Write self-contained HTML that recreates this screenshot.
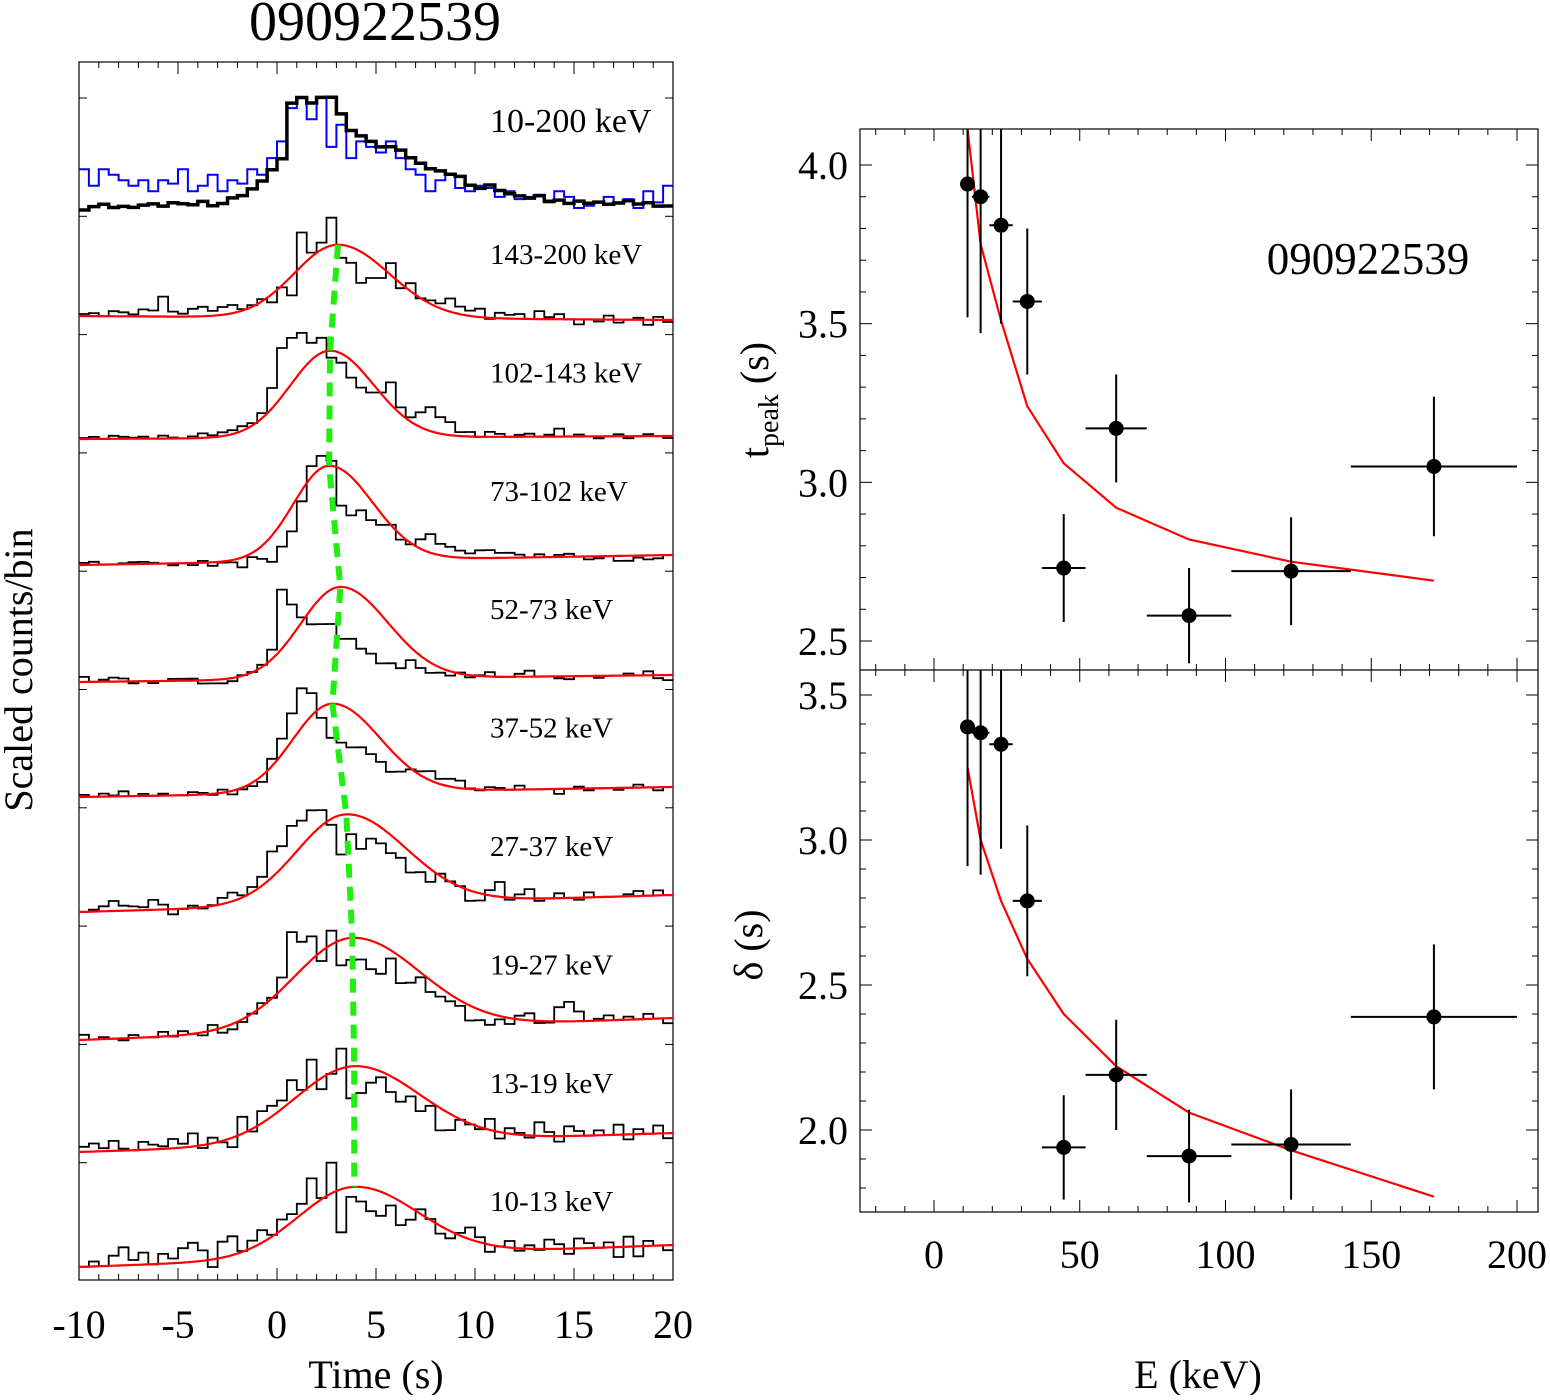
<!DOCTYPE html>
<html><head><meta charset="utf-8">
<style>
html,body{margin:0;padding:0;background:#fff;}
svg text{font-family:"Liberation Serif",serif;fill:#000;}
</style></head>
<body>
<svg id="chart" width="1550" height="1395" viewBox="0 0 1550 1395" xmlns="http://www.w3.org/2000/svg">
<g id="left"></g>
<g id="right"></g>
</svg>
<script>
// ---------- LEFT PANEL DATA ----------
const bandLabels=["143-200 keV","102-143 keV","73-102 keV","52-73 keV","37-52 keV","27-37 keV","19-27 keV","13-19 keV","10-13 keV"];
const bandBaseL=[316,439,565,682,797,912,1040,1152,1267];
const bandBaseR=[320,436,555,675,787,895,1018,1133,1245];
const modelPeakT=[3.08,2.68,2.63,3.2,2.8,3.5,3.8,3.9,3.9];
const modelAmp=[0.73,0.87,0.95,0.92,0.89,0.9,0.92,0.77,0.70];
const modelRise=[2.2,2.0,1.8,2.0,2.0,2.5,2.9,3.0,2.8];
const modelDecay=[2.6,2.2,2.2,2.4,2.4,3.0,3.4,3.3,3.2];
const histTop_black=[0.0,0.03,0.05,0.02,0.03,0.02,0.04,0.05,0.03,0.06,0.05,0.04,0.07,0.03,0.05,0.1,0.12,0.18,0.25,0.35,0.45,0.95,1.0,0.95,1.0,1.0,0.85,0.7,0.65,0.6,0.55,0.55,0.52,0.45,0.4,0.35,0.33,0.3,0.28,0.2,0.17,0.2,0.15,0.12,0.1,0.08,0.1,0.05,0.06,0.03,0.05,0.03,0.04,0.02,0.03,0.05,0.02,0.03,0.0,0.0];
const histTop_blue=[0.35,0.2,0.35,0.3,0.25,0.2,0.25,0.15,0.25,0.22,0.35,0.15,0.2,0.3,0.15,0.25,0.22,0.35,0.3,0.45,0.6,0.9,1.0,0.8,1.0,0.55,0.75,0.45,0.6,0.55,0.5,0.6,0.45,0.35,0.3,0.15,0.25,0.3,0.18,0.15,0.2,0.18,0.1,0.15,0.08,0.1,0.12,0.05,0.15,0.1,0.0,0.02,0.05,0.1,0.05,0.08,0.0,0.15,0.05,0.2];
const hist0=[0.02,0.03,0.0,0.05,0.04,0.02,0.07,0.06,0.2,0.05,0.03,0.08,0.1,0.06,0.1,0.12,0.08,0.12,0.18,0.15,0.3,0.22,0.85,0.65,0.75,1.0,0.6,0.55,0.35,0.4,0.4,0.55,0.3,0.35,0.2,0.18,0.15,0.2,0.12,0.08,0.1,0.0,0.06,0.04,0.05,0.0,0.08,0.02,0.05,0.0,-0.05,0.0,-0.02,0.04,-0.03,0.0,0.02,-0.05,0.03,-0.02];
const hist1=[0.01,0.02,0.0,0.03,0.02,0.01,0.02,0.0,0.03,0.01,0.0,0.02,0.05,0.03,0.06,0.08,0.12,0.15,0.25,0.5,0.9,1.0,1.05,0.95,1.0,0.8,0.75,0.6,0.5,0.45,0.45,0.55,0.3,0.2,0.25,0.3,0.2,0.15,0.05,0.05,0.0,0.05,0.03,0.0,0.02,0.03,0.0,0.02,0.08,0.0,0.02,0.0,-0.02,0.0,0.02,-0.02,0.0,0.02,0.0,-0.02];
const hist2=[0.02,0.03,0.0,0.0,0.01,0.02,0.02,0.01,0.0,-0.02,0.0,-0.02,0.02,-0.03,0.0,0.0,-0.05,0.05,0.03,0.0,0.15,0.3,0.6,0.95,1.05,1.0,0.55,0.45,0.5,0.4,0.35,0.35,0.2,0.15,0.2,0.25,0.15,0.12,0.08,0.05,0.08,0.08,0.05,0.05,0.03,0.0,0.03,0.0,0.02,0.03,0.0,-0.03,-0.02,0.0,-0.05,-0.05,-0.02,-0.04,-0.03,0.0];
const hist3=[0.05,0.0,0.02,0.04,0.03,-0.02,0.0,-0.02,0.0,0.02,0.02,0.02,-0.03,-0.03,-0.03,-0.01,0.05,0.08,0.15,0.3,0.9,0.75,0.62,0.55,0.55,0.55,0.4,0.4,0.3,0.25,0.15,0.15,0.1,0.18,0.1,0.05,0.05,0.02,0.05,0.0,0.02,0.05,0.0,0.0,0.03,0.06,0.0,0.0,-0.02,-0.03,0.0,0.0,-0.02,0.0,0.0,0.02,0.0,0.04,-0.03,-0.05];
const hist4=[0.02,0.0,0.03,0.01,0.05,0.0,0.02,0.0,0.02,0.0,0.0,0.03,0.02,0.0,0.05,0.0,0.05,0.08,0.12,0.35,0.55,0.8,1.05,1.0,0.75,0.55,0.5,0.45,0.45,0.38,0.3,0.2,0.2,0.22,0.2,0.2,0.12,0.12,0.1,0.02,0.0,0.03,0.02,0.0,0.04,0.0,0.0,0.0,-0.05,0.0,0.02,-0.02,0.0,0.0,-0.02,0.0,0.03,0.0,-0.03,0.0];
const hist5=[0.0,0.02,0.05,0.1,0.05,0.04,0.03,0.1,0.05,-0.05,0.0,0.03,0.0,0.03,0.1,0.15,0.12,0.2,0.3,0.55,0.6,0.8,0.85,0.95,0.95,0.8,0.5,0.7,0.55,0.65,0.6,0.5,0.45,0.3,0.3,0.2,0.28,0.2,0.15,0.0,0.0,0.1,0.18,0.0,0.05,0.1,-0.02,0.0,0.05,0.0,-0.02,0.05,0.0,0.0,0.0,0.02,0.05,0.0,0.05,0.0];
const hist6=[0.05,0.0,0.02,0.0,-0.02,0.03,0.0,0.0,0.05,0.0,0.05,0.02,0.0,0.1,0.02,0.05,0.12,0.2,0.3,0.35,0.55,1.0,0.9,0.95,0.7,1.0,0.65,0.7,0.7,0.6,0.55,0.7,0.45,0.45,0.5,0.35,0.3,0.25,0.2,0.05,0.05,0.0,0.05,0.0,0.08,0.1,0.0,0.0,0.15,0.2,0.1,0.0,0.02,0.05,0.0,0.03,0.0,0.05,0.0,-0.05];
const hist7=[0.05,0.08,0.03,0.1,0.02,0.0,0.08,0.05,0.03,0.1,0.05,0.15,0.0,0.1,0.05,0.0,0.3,0.15,0.35,0.4,0.45,0.65,0.55,0.85,0.55,0.7,0.95,0.45,0.5,0.6,0.65,0.5,0.4,0.45,0.3,0.35,0.1,0.1,0.2,0.15,0.1,0.2,0.0,0.1,0.05,0.0,0.15,0.05,-0.05,0.1,0.05,0.0,0.05,0.0,0.1,-0.05,0.05,0.0,0.08,-0.05];
const hist8=[0.0,0.05,0.0,0.1,0.18,0.05,0.12,0.0,0.1,0.05,0.15,0.2,0.12,-0.05,0.2,0.25,0.1,0.2,0.3,0.25,0.4,0.45,0.55,0.8,0.6,0.95,0.25,0.6,0.55,0.45,0.4,0.5,0.3,0.35,0.45,0.35,0.2,0.15,0.2,0.25,0.15,0.0,0.05,0.1,0.0,0.05,0.0,0.1,0.05,-0.05,0.1,0.05,0.0,0.05,-0.1,0.1,-0.1,0.05,0.0,-0.05];
const bandHists=[hist0,hist1,hist2,hist3,hist4,hist5,hist6,hist7,hist8];
const timeTicks=[-10,-5,0,5,10,15,20];

// ---------- RIGHT PANEL DATA ----------
const energy=[11.5,16,23,32,44.5,62.5,87.5,122.5,171.5];
const eLow=[10,13,19,27,37,52,73,102,143];
const eHigh=[13,19,27,37,52,73,102,143,200];
const tpeak=[3.94,3.90,3.81,3.57,2.73,3.17,2.58,2.72,3.05];
const tpeakErr=[0.42,0.43,0.31,0.23,0.17,0.17,0.15,0.17,0.22];
const tpeakFit=[4.12,3.75,3.51,3.24,3.06,2.92,2.82,2.75,2.69];
const delta=[3.39,3.37,3.33,2.79,1.94,2.19,1.91,1.95,2.39];
const deltaErr=[0.48,0.49,0.36,0.26,0.18,0.19,0.16,0.19,0.25];
const deltaFit=[3.25,3.0,2.79,2.59,2.40,2.22,2.06,1.93,1.77];
const eTicks=[0,50,100,150,200];
const tTicks=[2.5,3.0,3.5,4.0];
const dTicks=[2.0,2.5,3.0,3.5];

const NS="http://www.w3.org/2000/svg";
function mk(tag,attrs,parent,txt){const e=document.createElementNS(NS,tag);for(const k in attrs)e.setAttribute(k,attrs[k]);if(txt!==undefined)e.textContent=txt;parent.appendChild(e);return e;}
const L=document.getElementById('left'), R=document.getElementById('right');

const LX0=79,LX1=673,LY0=62,LY1=1280;
const xT=t=>LX0+(t+10)*(LX1-LX0)/30;
let e;
e=mk('rect',{x:LX0,y:LY0,width:LX1-LX0,height:LY1-LY0,fill:'none',stroke:'#000','stroke-width':1.2},L);

for(let t=-10;t<=20;t++){const maj=t%5===0;const len=maj?12:6;
 mk('line',{x1:xT(t),x2:xT(t),y1:LY1,y2:LY1-len,stroke:'#000','stroke-width':1},L);
 mk('line',{x1:xT(t),x2:xT(t),y1:LY0,y2:LY0+len,stroke:'#000','stroke-width':1},L);}
for(let i=0;i<10;i++){const y=98+i*118.3;
 mk('line',{x1:LX0,x2:LX0+8,y1:y,y2:y,stroke:'#000'},L);mk('line',{x1:LX1,x2:LX1-8,y1:y,y2:y,stroke:'#000'},L);}
timeTicks.forEach(t=>{e=mk('text',{x:xT(t),y:1338,'font-size':40,'text-anchor':'middle'},L,String(t));
 });
e=mk('text',{x:376,y:1388,'font-size':40,'text-anchor':'middle'},L,'Time (s)');

e=mk('text',{x:0,y:0,'font-size':40,'text-anchor':'middle',transform:'translate(32,670) rotate(-90)'},L,'Scaled counts/bin');

e=mk('text',{x:375,y:40,'font-size':56,'text-anchor':'middle'},L,'090922539');


function stepPath(vals,baseL,baseR,scale){
 let d='';const n=vals.length,w=30/n;
 for(let i=0;i<n;i++){const t0=-10+i*w,t1=t0+w,tm=t0+w/2;
  const base=baseL+(baseR-baseL)*(tm+10)/30;const y=base-vals[i]*scale;
  d+=(i===0?'M':'L')+xT(t0).toFixed(1)+','+y.toFixed(1)+'L'+xT(t1).toFixed(1)+','+y.toFixed(1);}
 return d;}
e=mk('path',{d:stepPath(histTop_blue,208,208,111),fill:'none',stroke:'#0000ff','stroke-width':2},L);

e=mk('path',{d:stepPath(histTop_black,210,206,111),fill:'none',stroke:'#000','stroke-width':3.5},L);

e=mk('text',{x:490,y:132,'font-size':34},L,'10-200 keV');


const peaks=[];
bandHists.forEach((h,b)=>{
 const bl=bandBaseL[b],br=bandBaseR[b];
 e=mk('path',{d:stepPath(h,bl,br,100),fill:'none',stroke:'#000','stroke-width':1.8},L);
 
 let d='';for(let k=0;k<=300;k++){const t=-10+k*0.1;
  const s=t<modelPeakT[b]?modelRise[b]:modelDecay[b];
  const v=modelAmp[b]*Math.exp(-Math.pow(t-modelPeakT[b],2)/(2*s*s));
  const y=bl+(br-bl)*(t+10)/30-v*100;d+=(k?'L':'M')+xT(t).toFixed(1)+','+y.toFixed(1);}
 e=mk('path',{d:d,fill:'none',stroke:'#ff0000','stroke-width':2.2},L);
 
 const pt=modelPeakT[b];peaks.push([xT(pt),bl+(br-bl)*(pt+10)/30-modelAmp[b]*100]);
 e=mk('text',{x:490,y:264+b*118.4,'font-size':29},L,bandLabels[b]);
 
});
e=mk('polyline',{points:peaks.map(p=>p.join(',')).join(' '),fill:'none',stroke:'#22ee11','stroke-width':6,'stroke-dasharray':'14,9'},L);


const RX0=860,RX1=1538,TY0=129,TY1=670,BY1=1212;
const xE=v=>934+v*(1517-934)/200;
const yT=v=>165+(4.0-v)*(641-165)/1.5;
const yD=v=>695+(3.5-v)*(1130-695)/1.5;
e=mk('rect',{x:RX0,y:TY0,width:RX1-RX0,height:BY1-TY0,fill:'none',stroke:'#000','stroke-width':1.2},R);

mk('line',{x1:RX0,x2:RX1,y1:TY1,y2:TY1,stroke:'#000','stroke-width':1.2},R);
for(let v=-20;v<=200;v+=10){const x=xE(v);if(x<RX0)continue;const len=v%50===0?12:6;
 [TY0,TY1].forEach(y=>mk('line',{x1:x,x2:x,y1:y,y2:y+len,stroke:'#000'},R));
 [TY1,BY1].forEach(y=>mk('line',{x1:x,x2:x,y1:y,y2:y-len,stroke:'#000'},R));}
for(let v=2.5;v<=4.1;v+=0.1){const y=yT(v);if(y<TY0||y>TY1)continue;const maj=Math.abs(v*2-Math.round(v*2))<0.01;const len=maj?12:6;
 mk('line',{x1:RX0,x2:RX0+len,y1:y,y2:y,stroke:'#000'},R);mk('line',{x1:RX1,x2:RX1-len,y1:y,y2:y,stroke:'#000'},R);}
for(let v=1.8;v<=3.6;v+=0.1){const y=yD(v);if(y<TY1||y>BY1)continue;const maj=Math.abs(v*2-Math.round(v*2))<0.01;const len=maj?12:6;
 mk('line',{x1:RX0,x2:RX0+len,y1:y,y2:y,stroke:'#000'},R);mk('line',{x1:RX1,x2:RX1-len,y1:y,y2:y,stroke:'#000'},R);}
eTicks.forEach(v=>{e=mk('text',{x:xE(v),y:1268,'font-size':40,'text-anchor':'middle'},R,String(v));
 });
tTicks.forEach(v=>{e=mk('text',{x:848,y:yT(v)+14,'font-size':40,'text-anchor':'end'},R,v.toFixed(1));
 });
dTicks.forEach(v=>{e=mk('text',{x:848,y:yD(v)+14,'font-size':40,'text-anchor':'end'},R,v.toFixed(1));
 });
e=mk('text',{x:1198,y:1388,'font-size':40,'text-anchor':'middle'},R,'E (keV)');

e=mk('text',{x:0,y:0,'font-size':40,'text-anchor':'middle',transform:'translate(768,400) rotate(-90)'},R);

mk('tspan',{},e,'t');mk('tspan',{'font-size':28,dy:10},e,'peak');mk('tspan',{dy:-10},e,' (s)');
e=mk('text',{x:0,y:0,'font-size':40,'text-anchor':'middle',transform:'translate(762,945) rotate(-90)'},R,'δ (s)');

e=mk('text',{x:1368,y:274,'font-size':45,'text-anchor':'middle'},R,'090922539');


function clipY(y,lo,hi){return Math.max(lo,Math.min(hi,y));}
function drawSeries(vals,errs,fit,yf,lo,hi,nm){
 e=mk('polyline',{points:energy.map((v,i)=>xE(v)+','+clipY(yf(fit[i]),lo,hi)).join(' '),fill:'none',stroke:'#ff0000','stroke-width':2.2},R);
 
 energy.forEach((v,i)=>{const x=xE(v),y=yf(vals[i]);
  mk('line',{x1:xE(eLow[i]),x2:xE(eHigh[i]),y1:y,y2:y,stroke:'#000','stroke-width':2},R);
  mk('line',{x1:x,x2:x,y1:clipY(yf(vals[i]+errs[i]),lo,hi),y2:clipY(yf(vals[i]-errs[i]),lo,hi),stroke:'#000','stroke-width':2},R);
  e=mk('circle',{cx:x,cy:y,r:7.5,fill:'#000'},R);
  });
}
drawSeries(tpeak,tpeakErr,tpeakFit,yT,TY0,TY1,'tpeak');
drawSeries(delta,deltaErr,deltaFit,yD,TY1,BY1,'delta');
</script>
</body></html>
